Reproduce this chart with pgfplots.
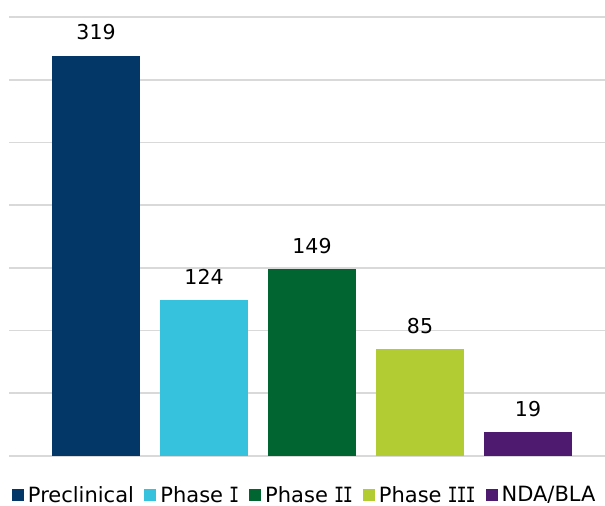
\documentclass[border=0pt]{standalone}
\usepackage{graphicx}
\usepackage{pgfplots}
\pgfplotsset{compat=1.18}
\usepackage{fontspec}
\setmainfont{DejaVu Sans}
\newfontfamily\monoI{DejaVu Sans Mono}
\definecolor{cPre}{HTML}{023767}
\definecolor{cP1}{HTML}{36C1DC}
\definecolor{cP2}{HTML}{006531}
\definecolor{cP3}{HTML}{B2CD34}
\definecolor{cNDA}{HTML}{4E1A6F}
\definecolor{gridc}{HTML}{D9D9D9}
\newcommand{\RI}{\kern-0.6bp\scalebox{0.8}[1]{\monoI I}\kern-0.6bp}
\begin{document}
\begin{tikzpicture}
\path[use as bounding box] (0,0) rectangle (605bp,506bp);
\begin{axis}[
  at={(9bp,50bp)}, anchor=south west,
  scale only axis, width=596bp, height=439bp,
  ybar, bar width=88bp,
  xmin=-0.806, xmax=4.713, ymin=0, ymax=350,
  ytick={0,50,...,350}, yticklabels={},
  xtick=\empty,
  ymajorgrids, grid style={gridc, line width=1.6bp},
  axis line style={draw=none},
  major tick length=0pt,
  /pgf/number format/assume math mode=true,
  nodes near coords,
  every node near coord/.append style={font=\fontsize{20.5bp}{24bp}\selectfont, text=black, anchor=south, inner sep=0pt, yshift=15.5bp},
  legend columns=5,
  legend style={draw=none, fill=none, at={(0.4966,-0.0890)}, anchor=center,
    font=\fontsize{21bp}{25bp}\selectfont,
    /tikz/every odd column/.append style={column sep=1.5bp},
    /tikz/every even column/.append style={column sep=8bp},
    nodes={inner xsep=2.5bp, inner ysep=0pt}},
  legend image code/.code={\fill[#1] (0bp,-6bp) rectangle (12bp,6bp);},
]
\addplot[fill=cPre, draw=none, bar shift=0pt] coordinates {(0,319)};
\addplot[fill=cP1, draw=none, bar shift=0pt] coordinates {(1,124)};
\addplot[fill=cP2, draw=none, bar shift=0pt] coordinates {(2,149)};
\addplot[fill=cP3, draw=none, bar shift=0pt] coordinates {(3,85)};
\addplot[fill=cNDA, draw=none, bar shift=0pt] coordinates {(4,19)};
\legend{Preclinical, Phase \RI, Phase \RI\RI, Phase \RI\RI\RI, NDA/BLA}
\end{axis}
\end{tikzpicture}
\end{document}
